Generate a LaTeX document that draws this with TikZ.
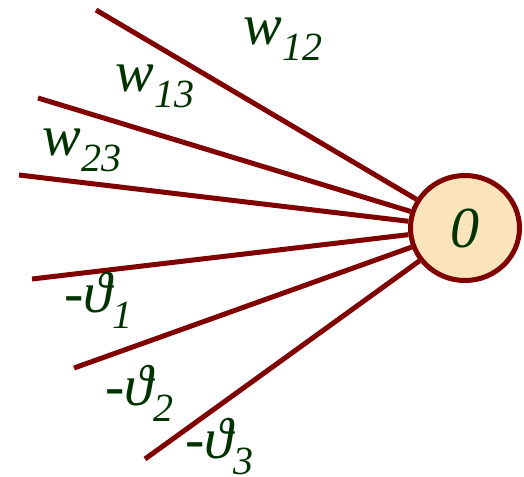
\documentclass[tikz,border=0pt]{standalone}
\usepackage{fontspec}
\setmainfont{Liberation Serif}
\usetikzlibrary{shapes.geometric}
\definecolor{lred}{HTML}{800000}
\definecolor{lgreen}{HTML}{003300}
\definecolor{peach}{HTML}{FBE3BC}
\newcommand\wsub[2]{\fontsize{58}{58}\selectfont\itshape #1\kern1pt\raisebox{-16pt}{\fontsize{40}{40}\selectfont\itshape #2}}
\begin{document}
\begin{tikzpicture}[x=1pt,y=-1pt,
  conn/.style={draw=lred,line width=5pt},
  lab/.style={text=lgreen,anchor=base west,inner sep=0pt},
  neuron/.style={ellipse,draw=lred,line width=5pt,fill=peach,minimum width=109pt,minimum height=105pt,inner sep=0pt,text=lgreen}]
\useasboundingbox (0,0) rectangle (524,476);
\coordinate (a1) at (96,10);
\coordinate (a2) at (38,98);
\coordinate (a3) at (19,175);
\coordinate (a4) at (32,279);
\coordinate (a5) at (74,368);
\coordinate (a6) at (145,459);
\node[neuron] (n) at (465,228) {\fontsize{58}{58}\selectfont\itshape 0};
\foreach \i in {1,...,6} \draw[conn] (a\i) -- (n);
\node[lab] (l1) at (243,45) {\wsub{w}{12}};
\node[lab] (l2) at (115,92) {\wsub{w}{13}};
\node[lab] (l3) at (42,155) {\wsub{w}{23}};
\node[lab] (l4) at (64,312) {\wsub{-ϑ}{1}};
\node[lab] (l5) at (105,405) {\wsub{-ϑ}{2}};
\node[lab] (l6) at (185,458) {\wsub{-ϑ}{3}};
\end{tikzpicture}
\end{document}
